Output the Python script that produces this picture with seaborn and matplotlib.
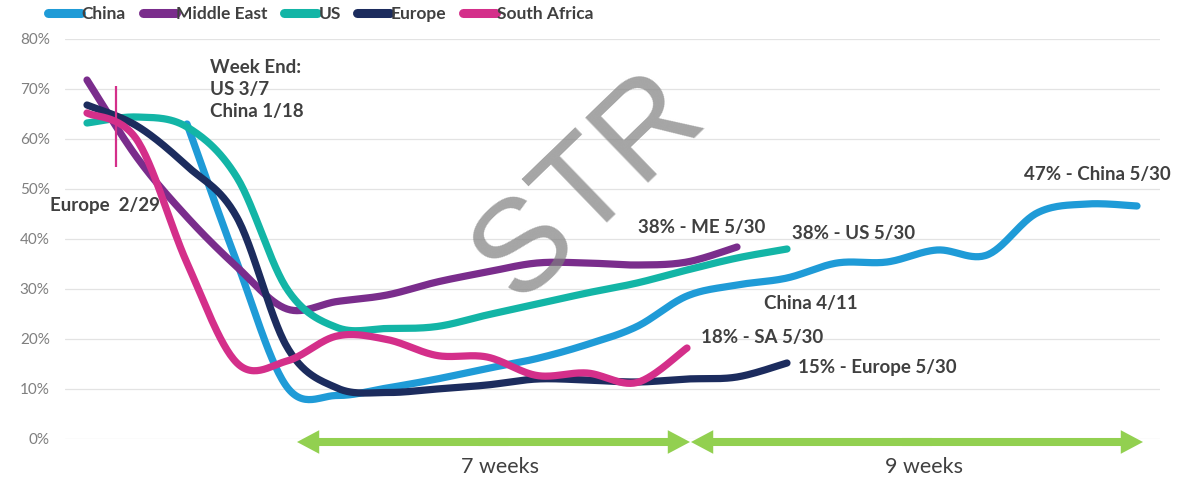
import numpy as np
import pandas as pd
import matplotlib
matplotlib.use("Agg")
import matplotlib.pyplot as plt
from matplotlib.lines import Line2D
from matplotlib.patches import FancyArrowPatch
import seaborn as sns

# ---------------- data (weekly occupancy, %) ----------------
series_names = ["China", "Middle East", "US", "Europe", "South Africa"]

weeks_china = list(range(2, 22))
china = [63.0, 35.3, 10.4, 8.7, 10.2, 12.0, 14.1, 16.1, 18.9, 22.5,
         28.6, 30.8, 32.2, 35.2, 35.4, 37.8, 36.8, 45.2, 47.0, 46.6]

weeks_me = list(range(0, 14))
middle_east = [71.8, 56.3, 44.4, 34.4, 26.0, 27.5, 28.8, 31.4, 33.4, 35.2,
               35.2, 34.8, 35.4, 38.4]

weeks_us = list(range(0, 15))
us = [63.2, 64.4, 62.4, 52.3, 30.0, 22.3, 22.1, 22.5, 24.8, 27.0,
      29.2, 31.2, 33.8, 36.2, 38.0]

weeks_eu = list(range(0, 15))
europe = [66.8, 62.6, 54.6, 44.3, 18.4, 10.2, 9.3, 10.0, 10.8, 12.0,
          11.8, 11.4, 12.0, 12.4, 15.2]

weeks_sa = list(range(0, 13))
south_africa = [65.2, 59.8, 35.2, 15.2, 15.6, 20.6, 19.9, 16.7, 16.4, 12.7,
                13.2, 11.3, 18.2]

colors = ["#1f9bd7", "#7a2d8c", "#13b5a6", "#1c2c5e", "#d42f8a"]

y_ticks = [0, 10, 20, 30, 40, 50, 60, 70, 80]
y_ticklabels = ["0%", "10%", "20%", "30%", "40%", "50%", "60%", "70%", "80%"]

annotations = [
    ("Week End:\nUS 3/7\nChina 1/18", 2.47, 69.9),
    ("Europe  2/29", -0.74, 46.6),
    ("38% - ME 5/30", 11.02, 42.2),
    ("38% - US 5/30", 14.10, 41.0),
    ("47% - China 5/30", 18.74, 52.8),
    ("China 4/11", 13.54, 27.0),
    ("18% - SA 5/30", 12.28, 20.2),
    ("15% - Europe 5/30", 14.22, 14.2),
]

marker_week = 0.58
marker_range = (54.4, 70.6)

# (start, end, label, label position)
spans = [(4.2, 12.06, "7 weeks", 8.26), (12.08, 21.12, "9 weeks", 16.74)]


# ------------- smoothing (Excel-like Catmull-Rom) -------------
def smooth(xs, ys, n=30):
    P = np.column_stack([np.asarray(xs, float), np.asarray(ys, float)])
    P = np.vstack([P[0], P, P[-1]])
    out = []
    t = np.linspace(0, 1, n, endpoint=False)[:, None]
    for i in range(len(P) - 3):
        p0, p1, p2, p3 = P[i], P[i + 1], P[i + 2], P[i + 3]
        seg = 0.5 * (2 * p1 + (-p0 + p2) * t
                     + (2 * p0 - 5 * p1 + 4 * p2 - p3) * t ** 2
                     + (-p0 + 3 * p1 - 3 * p2 + p3) * t ** 3)
        out.append(seg)
    out.append(P[-2][None, :])
    out = np.vstack(out)
    return out[:, 0], out[:, 1]


raw = [(weeks_china, china), (weeks_me, middle_east), (weeks_us, us),
       (weeks_eu, europe), (weeks_sa, south_africa)]
frames = []
for name, (wx, wy) in zip(series_names, raw):
    sx, sy = smooth(wx, wy)
    frames.append(pd.DataFrame({"week": sx, "occ": sy, "series": name}))
df = pd.concat(frames, ignore_index=True)

# ---------------- figure ----------------
sns.set_theme(style="white")
plt.rcParams["font.family"] = ["Lato", "DejaVu Sans"]

W, H = 1177, 491
fig = plt.figure(figsize=(W / 100, H / 100), dpi=100)
ax = fig.add_axes([65 / W, 52 / H, 1095 / W, 400 / H])

palette = dict(zip(series_names, colors))
sns.lineplot(data=df, x="week", y="occ", hue="series", hue_order=series_names,
             palette=palette, sort=False, estimator=None, lw=5.2,
             solid_capstyle="round", legend=False, ax=ax, zorder=3)

ax.set_xlim(-0.44, 21.46)
ax.set_ylim(0, 80)
ax.set_yticks(y_ticks)
ax.set_yticklabels(y_ticklabels, color="#7f7f7f", fontsize=11)
ax.set_xticks([])
ax.set_xlabel("")
ax.set_ylabel("")
ax.tick_params(axis="y", length=0, pad=11)
ax.grid(axis="y", color="#e3e3e3", lw=0.9, zorder=0)
ax.set_axisbelow(True)
for s in ax.spines.values():
    s.set_visible(False)

# vertical marker line
ax.vlines(marker_week, marker_range[0], marker_range[1], color=colors[4],
          lw=1.6, zorder=4)

# annotations
for txt, x, y in annotations:
    ax.text(x, y, txt, ha="left", va="center", fontsize=13.5,
            fontweight="bold", color="#404040", linespacing=1.38,
            zorder=6, clip_on=False)

# green span arrows
for x0, x1, lab, lx in spans:
    mid = (x0 + x1) / 2
    for start, end in ((mid + 0.3, x0), (mid - 0.3, x1)):
        arr = FancyArrowPatch((start, -0.6), (end, -0.6),
                              arrowstyle="simple,head_length=1.6,head_width=1.7,tail_width=0.58",
                              mutation_scale=10, color="#92d050", lw=0,
                              shrinkA=0, shrinkB=0, zorder=5)
        arr.set_clip_on(False)
        ax.add_patch(arr)
    ax.text(lx, -5.6, lab, ha="center", va="center", fontsize=15.5,
            color="#404040", clip_on=False)

# watermark
fig.text(589 / W, 1 - 187 / H, "STR", fontsize=95, rotation=44,
         ha="center", va="center", rotation_mode="anchor",
         family="Liberation Sans", color="#7f7f7f", alpha=0.7, zorder=10)

# legend
handles = [Line2D([0], [0], color=c, lw=6.5, solid_capstyle="round")
           for c in colors]
fig.legend(handles, series_names, loc="upper left",
           bbox_to_anchor=(48 / W, 1 - 6 / H), ncol=5, frameon=False,
           handlelength=1.9, handletextpad=0.05, columnspacing=0.95,
           borderpad=0, borderaxespad=0,
           prop={"family": ["Lato", "DejaVu Sans"], "size": 12.5,
                 "weight": "bold"}, labelcolor="#404040")

fig.savefig("out.png", dpi=100)
